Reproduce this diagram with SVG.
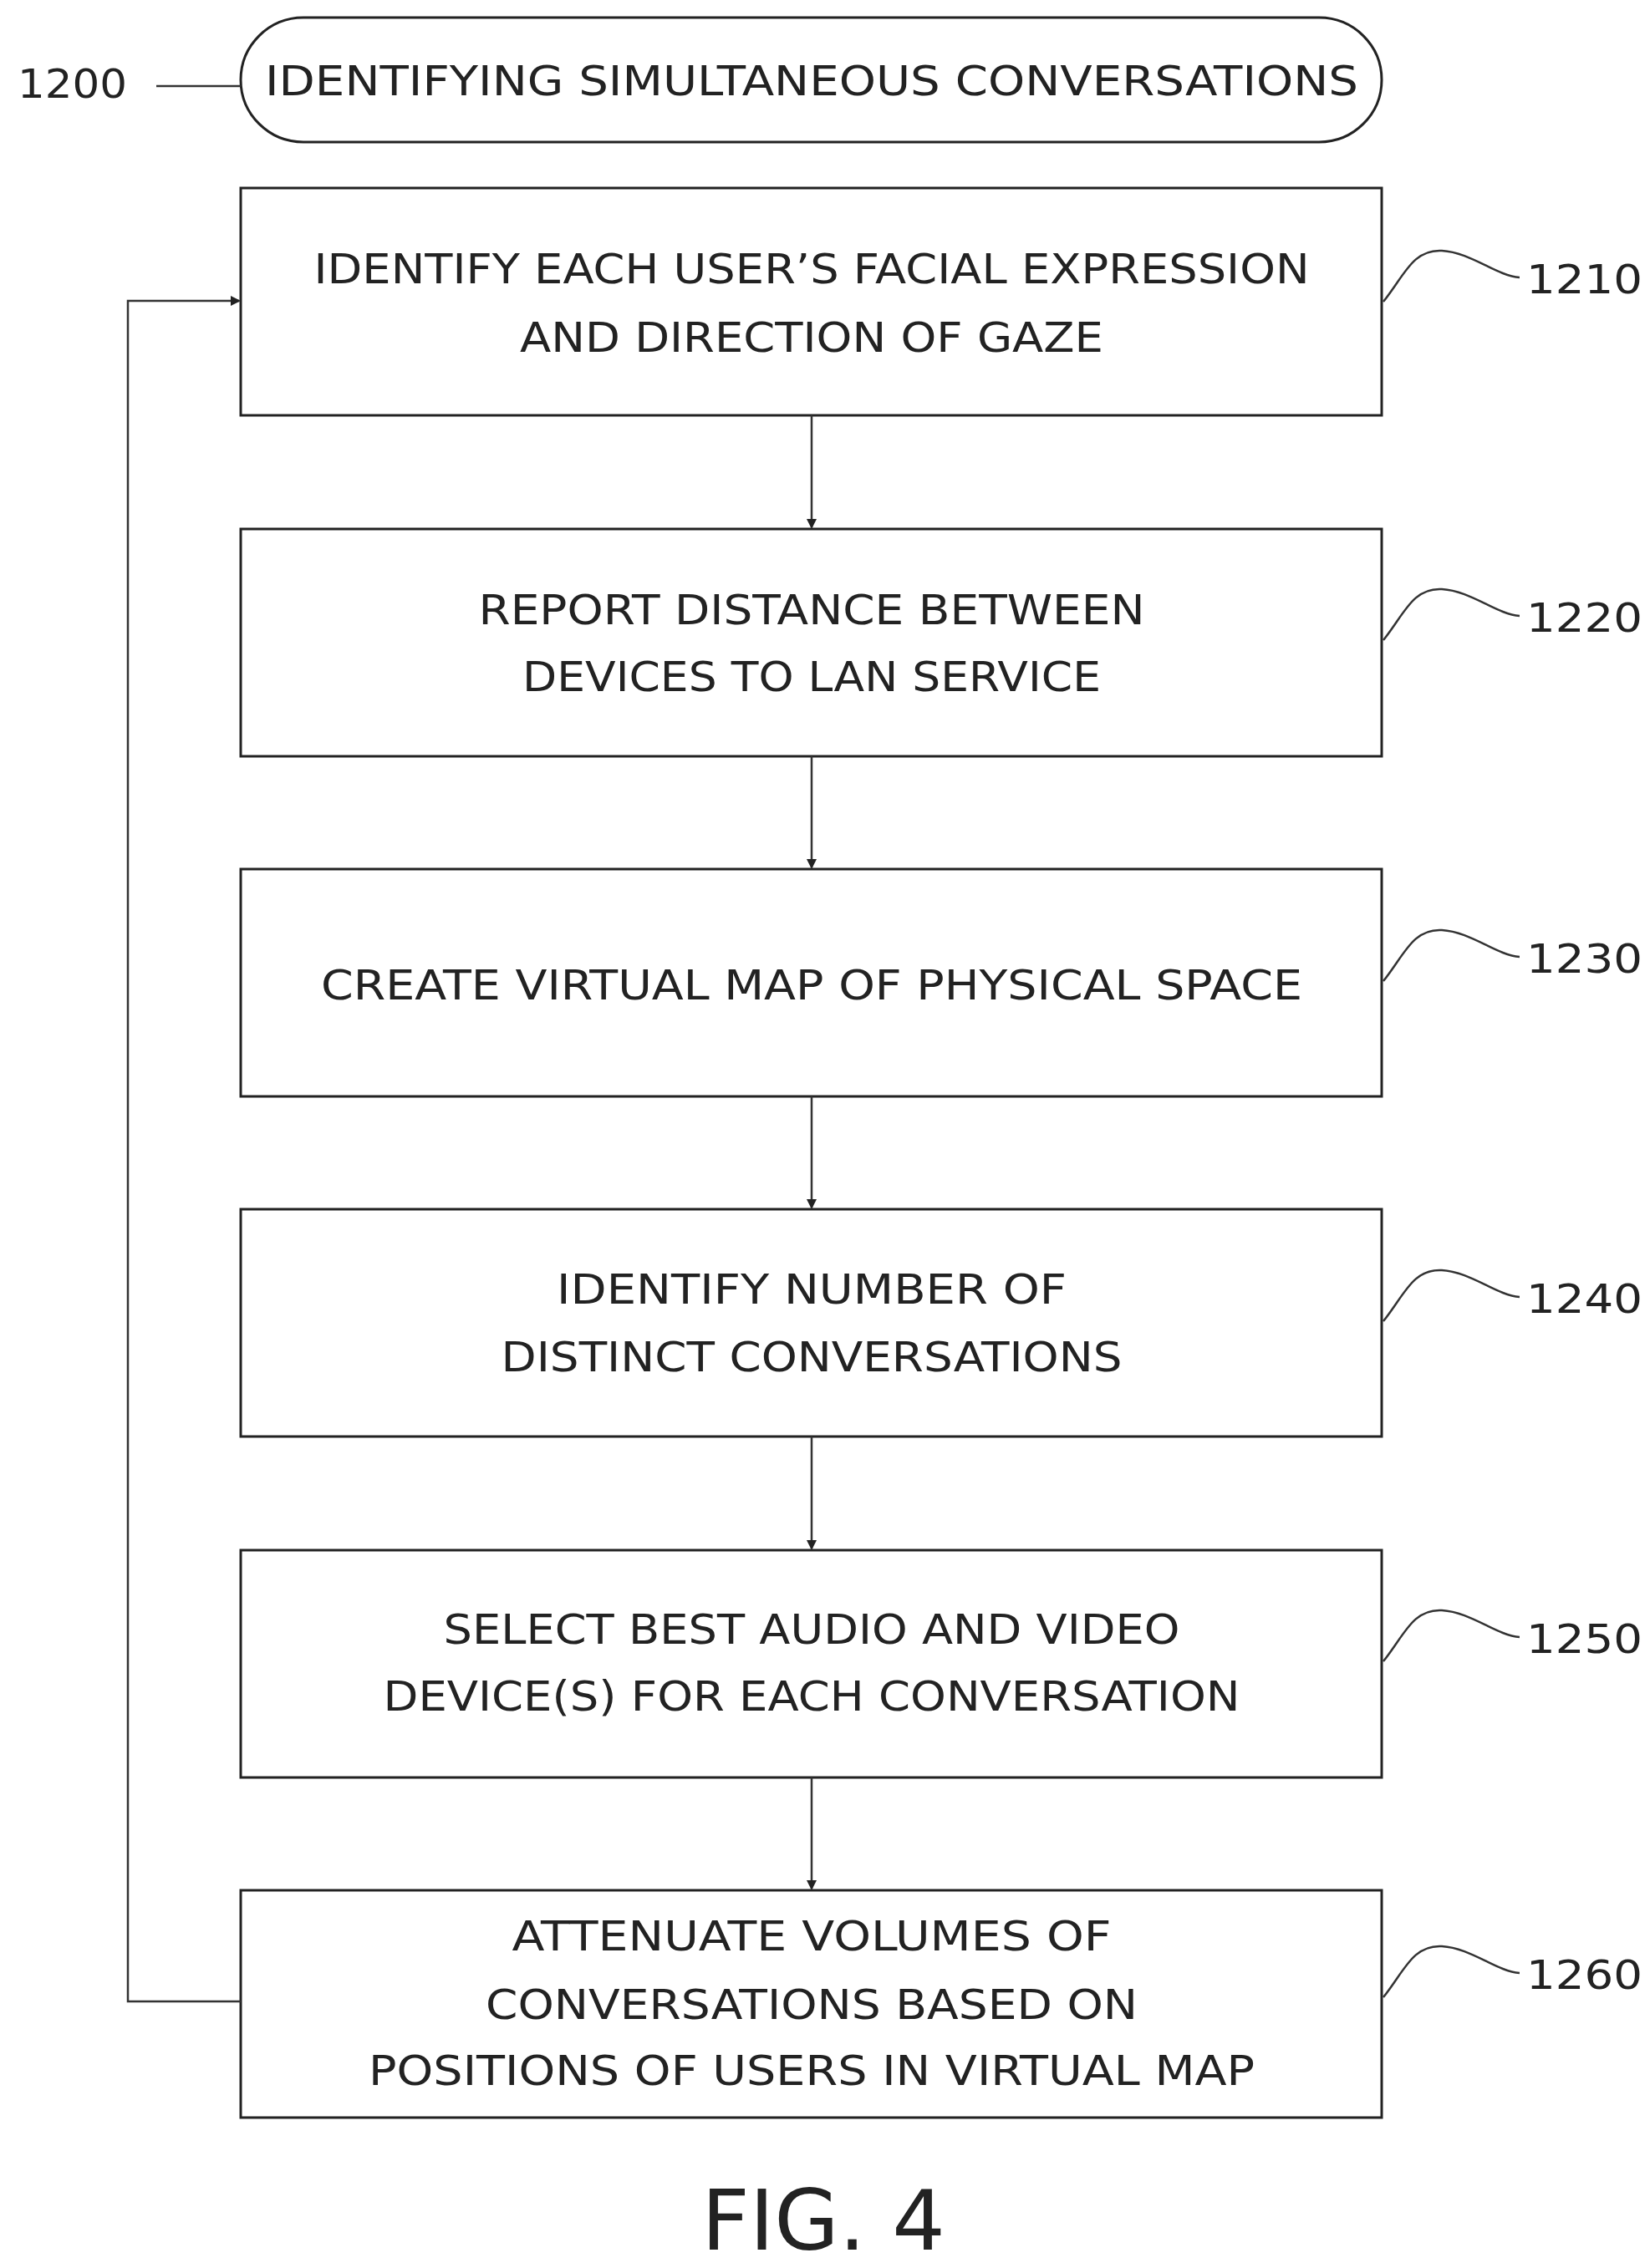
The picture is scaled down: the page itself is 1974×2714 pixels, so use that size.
<svg xmlns="http://www.w3.org/2000/svg" width="1974" height="2714" viewBox="0 0 1974 2714">
<style>
.b{fill:#fff;stroke:#222;stroke-width:3}
.t{font-family:"DejaVu Sans",sans-serif;font-size:50px;fill:#222;text-anchor:middle}
.n{font-family:"DejaVu Sans",sans-serif;font-size:48px;fill:#222}
.c{fill:none;stroke:#333;stroke-width:2.5}
</style>
<defs><marker id="a" markerWidth="12" markerHeight="12" refX="10" refY="6" orient="auto" markerUnits="userSpaceOnUse"><path d="M0,0L12,6L0,12z" fill="#222"/></marker></defs>
<rect width="1974" height="2714" fill="#fff"/>
<g id="n1200">
<rect class="b" x="288" y="21" width="1365" height="149" rx="75"/>
<text class="t" x="971" y="114" textLength="1308" lengthAdjust="spacingAndGlyphs">IDENTIFYING SIMULTANEOUS CONVERSATIONS</text>
<text class="n" x="21" y="117" textLength="131" lengthAdjust="spacingAndGlyphs">1200</text>
<path class="c" d="M187,103H288"/>
</g>
<g id="n1210">
<rect class="b" x="288" y="225" width="1365" height="272"/>
<text class="t" x="971" y="339" textLength="1191" lengthAdjust="spacingAndGlyphs">IDENTIFY EACH USER’S FACIAL EXPRESSION</text>
<text class="t" x="971" y="421" textLength="698" lengthAdjust="spacingAndGlyphs">AND DIRECTION OF GAZE</text>
</g>
<g id="n1220">
<rect class="b" x="288" y="633" width="1365" height="272"/>
<text class="t" x="971" y="747" textLength="797" lengthAdjust="spacingAndGlyphs">REPORT DISTANCE BETWEEN</text>
<text class="t" x="971" y="827" textLength="692" lengthAdjust="spacingAndGlyphs">DEVICES TO LAN SERVICE</text>
</g>
<g id="n1230">
<rect class="b" x="288" y="1040" width="1365" height="272"/>
<text class="t" x="971" y="1196" textLength="1174" lengthAdjust="spacingAndGlyphs">CREATE VIRTUAL MAP OF PHYSICAL SPACE</text>
</g>
<g id="n1240">
<rect class="b" x="288" y="1447" width="1365" height="272"/>
<text class="t" x="971" y="1560" textLength="610" lengthAdjust="spacingAndGlyphs">IDENTIFY NUMBER OF</text>
<text class="t" x="971" y="1641" textLength="743" lengthAdjust="spacingAndGlyphs">DISTINCT CONVERSATIONS</text>
</g>
<g id="n1250">
<rect class="b" x="288" y="1855" width="1365" height="272"/>
<text class="t" x="971" y="1967" textLength="881" lengthAdjust="spacingAndGlyphs">SELECT BEST AUDIO AND VIDEO</text>
<text class="t" x="971" y="2047" textLength="1025" lengthAdjust="spacingAndGlyphs">DEVICE(S) FOR EACH CONVERSATION</text>
</g>
<g id="n1260">
<rect class="b" x="288" y="2262" width="1365" height="272"/>
<text class="t" x="971" y="2334" textLength="717" lengthAdjust="spacingAndGlyphs">ATTENUATE VOLUMES OF</text>
<text class="t" x="971" y="2416" textLength="780" lengthAdjust="spacingAndGlyphs">CONVERSATIONS BASED ON</text>
<text class="t" x="971" y="2495" textLength="1060" lengthAdjust="spacingAndGlyphs">POSITIONS OF USERS IN VIRTUAL MAP</text>
</g>
<g id="labels">
<path class="c" d="M1655,361C1680,330 1690,298 1725,300C1760,302 1790,330 1818,332"/>
<text class="n" x="1826" y="351" textLength="139" lengthAdjust="spacingAndGlyphs">1210</text>
<path class="c" d="M1655,766C1680,735 1690,703 1725,705C1760,707 1790,735 1818,737"/>
<text class="n" x="1826" y="756" textLength="139" lengthAdjust="spacingAndGlyphs">1220</text>
<path class="c" d="M1655,1174C1680,1143 1690,1111 1725,1113C1760,1115 1790,1143 1818,1145"/>
<text class="n" x="1826" y="1164" textLength="139" lengthAdjust="spacingAndGlyphs">1230</text>
<path class="c" d="M1655,1581C1680,1550 1690,1518 1725,1520C1760,1522 1790,1550 1818,1552"/>
<text class="n" x="1826" y="1571" textLength="139" lengthAdjust="spacingAndGlyphs">1240</text>
<path class="c" d="M1655,1988C1680,1957 1690,1925 1725,1927C1760,1929 1790,1957 1818,1959"/>
<text class="n" x="1826" y="1978" textLength="139" lengthAdjust="spacingAndGlyphs">1250</text>
<path class="c" d="M1655,2390C1680,2359 1690,2327 1725,2329C1760,2331 1790,2359 1818,2361"/>
<text class="n" x="1826" y="2380" textLength="139" lengthAdjust="spacingAndGlyphs">1260</text>
</g>
<g id="connectors">
<path class="c" d="M971,497V631" marker-end="url(#a)"/>
<path class="c" d="M971,905V1038" marker-end="url(#a)"/>
<path class="c" d="M971,1312V1445" marker-end="url(#a)"/>
<path class="c" d="M971,1719V1853" marker-end="url(#a)"/>
<path class="c" d="M971,2127V2260" marker-end="url(#a)"/>
<path class="c" d="M288,2395H153V360H286" marker-end="url(#a)"/>
</g>
<text x="985" y="2692" font-family="DejaVu Sans,sans-serif" font-size="100" fill="#222" text-anchor="middle">FIG. 4</text>
</svg>
